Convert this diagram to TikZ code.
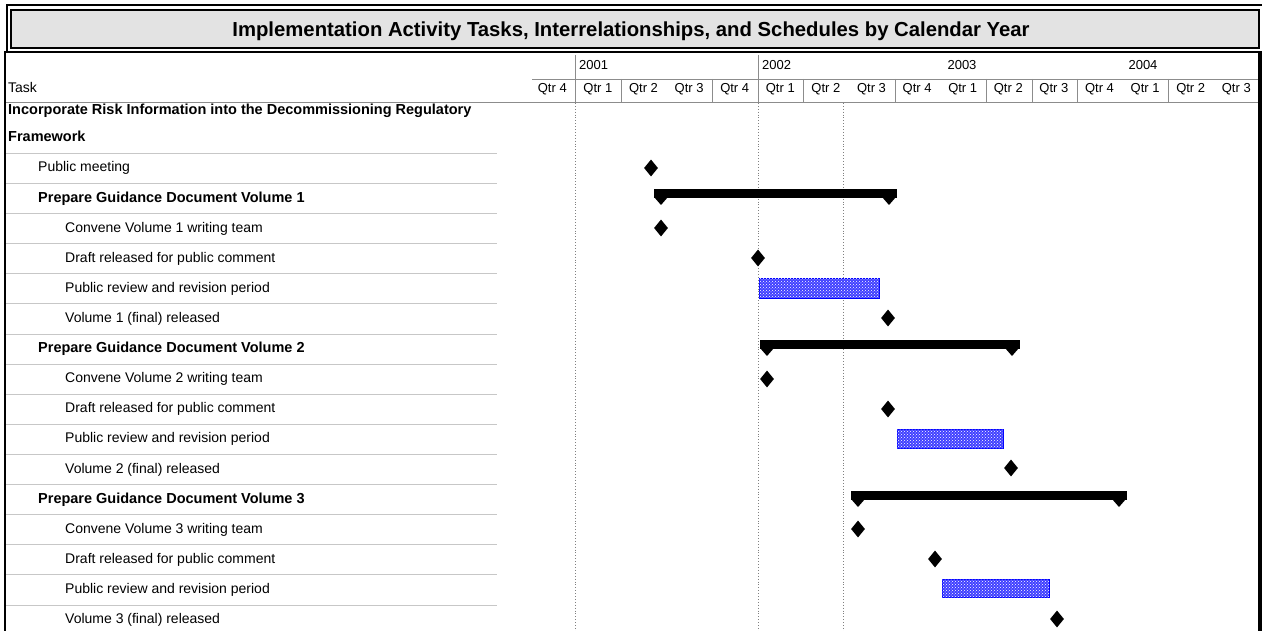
\documentclass[tikz,border=0pt]{standalone}
\usepackage{fontspec}
\setmainfont{Liberation Sans}
\usetikzlibrary{shapes.geometric,patterns}
% summary bar: left x, right x, top y
\newcommand{\sumbar}[3]{%
  \fill[black] (#1,#3) rectangle (#2,#3+9);
  \fill[black] (#1,#3+8) -- (#1+14,#3+8) -- (#1+7,#3+16) -- cycle;
  \fill[black] (#2-15,#3+8) -- (#2-1,#3+8) -- (#2-8,#3+16) -- cycle;
}

\begin{document}
\begin{tikzpicture}[x=1pt, y=-1pt,
  titlelbl/.style={font=\fontsize{20.3}{22}\selectfont\bfseries, inner sep=0pt},
  sumlbl/.style={anchor=base west, font=\fontsize{14.5}{16}\selectfont\bfseries, inner sep=0pt},
  tasklbl/.style={anchor=base west, font=\fontsize{14}{16}\selectfont, inner sep=0pt},
  qlbl/.style={anchor=base, font=\fontsize{13}{15}\selectfont, inner sep=0pt},
  yrlbl/.style={anchor=base, font=\fontsize{13}{15}\selectfont, inner sep=0pt},
  milestone/.style={diamond, fill=black, minimum width=14pt, minimum height=17pt, inner sep=0pt},
  taskbar/.style={draw=blue, line width=0.8pt, fill=blue!75, postaction={pattern=crosshatch dots, pattern color=white}},
  rowline/.style={black!22, line width=1pt},
  gridline/.style={black!45, line width=0.9pt},
  nowline/.style={black!50, dotted, line width=0.9pt}]
\useasboundingbox (0,0) rectangle (1262,631);
% {{{ title bar
\draw[line width=2pt] (7,5) rectangle (1266,52);
\draw[line width=2pt, fill=black!11] (11,10) rectangle (1259,48);
\node[titlelbl] (title) at (631,31) {Implementation Activity Tasks, Interrelationships, and Schedules by Calendar Year};
% }}}
% {{{ header
\draw[gridline] (532,79) -- (1260,79);
\draw[gridline] (5,102) -- (1260,102);
\draw[gridline] (575,55) -- (575,79);
\draw[gridline] (758,55) -- (758,79);
\foreach \bx in {575,621,712,758,803,895,986,1032,1077,1168}
  \draw[gridline] (\bx,79) -- (\bx,102);
\node[yrlbl, anchor=base west] (y2001) at (579,70) {2001};
\node[yrlbl, anchor=base west] (y2002) at (762,70) {2002};
\node[yrlbl] (y2003) at (962,70) {2003};
\node[yrlbl] (y2004) at (1143,70) {2004};
\node[tasklbl] (hTask) at (8,93) {Task};
\foreach \q [count=\i from 0] in {4,1,2,3,4,1,2,3,4,1,2,3,4,1,2,3}
  \node[qlbl] (q\i) at (529.5+45.6*\i+22.8,93) {Qtr \q};
% }}}
% {{{ today / year lines
\draw[nowline] (575,103) -- (575,631);
\draw[nowline] (758,103) -- (758,631);
\draw[nowline] (843,103) -- (843,631);
% }}}
% {{{ task list
\foreach \k in {0,...,15}
  \draw[rowline] (5,153.5+30.1*\k) -- (497,153.5+30.1*\k);
\node[sumlbl, anchor=north west, align=left, font=\fontsize{14.5}{27}\selectfont\bfseries] (tRisk) at (8,104) {Incorporate Risk Information into the Decommissioning Regulatory\\Framework};
\node[tasklbl] (tMeet) at (38,172) {Public meeting};
\node[sumlbl]  (tVol1) at (38,202.1) {Prepare Guidance Document Volume 1};
\node[tasklbl] (tTeam1) at (65,232.2) {Convene Volume 1 writing team};
\node[tasklbl] (tDraft1) at (65,262.3) {Draft released for public comment};
\node[tasklbl] (tRev1) at (65,292.4) {Public review and revision period};
\node[tasklbl] (tFin1) at (65,322.5) {Volume 1 (final) released};
\node[sumlbl]  (tVol2) at (38,352.6) {Prepare Guidance Document Volume 2};
\node[tasklbl] (tTeam2) at (65,382.7) {Convene Volume 2 writing team};
\node[tasklbl] (tDraft2) at (65,412.8) {Draft released for public comment};
\node[tasklbl] (tRev2) at (65,442.9) {Public review and revision period};
\node[tasklbl] (tFin2) at (65,473) {Volume 2 (final) released};
\node[sumlbl]  (tVol3) at (38,503.1) {Prepare Guidance Document Volume 3};
\node[tasklbl] (tTeam3) at (65,533.2) {Convene Volume 3 writing team};
\node[tasklbl] (tDraft3) at (65,563.3) {Draft released for public comment};
\node[tasklbl] (tRev3) at (65,593.4) {Public review and revision period};
\node[tasklbl] (tFin3) at (65,623.5) {Volume 3 (final) released};
% }}}
% {{{ bars and milestones
\node[milestone] (mMeet) at (651,168) {};
\sumbar{654}{897}{189}
\node[milestone] (mTeam1) at (661,228) {};
\node[milestone] (mDraft1) at (758,258) {};
\draw[taskbar] (759,278) rectangle (879,298);
\node[milestone] (mFin1) at (888,318) {};
\sumbar{760}{1020}{340}
\node[milestone] (mTeam2) at (767,379) {};
\node[milestone] (mDraft2) at (888,409) {};
\draw[taskbar] (897,429) rectangle (1003,448);
\node[milestone] (mFin2) at (1011,468) {};
\sumbar{851}{1127}{491}
\node[milestone] (mTeam3) at (858,529) {};
\node[milestone] (mDraft3) at (935,559) {};
\draw[taskbar] (942,579) rectangle (1049,597);
\node[milestone] (mFin3) at (1057,619) {};
% }}}
% {{{ chart frame
\draw[line width=2pt] (5,640) -- (5,52) -- (1260,52);
\draw[line width=3.5pt] (1260,52) -- (1260,640);
% }}}
\end{tikzpicture}
\end{document}
